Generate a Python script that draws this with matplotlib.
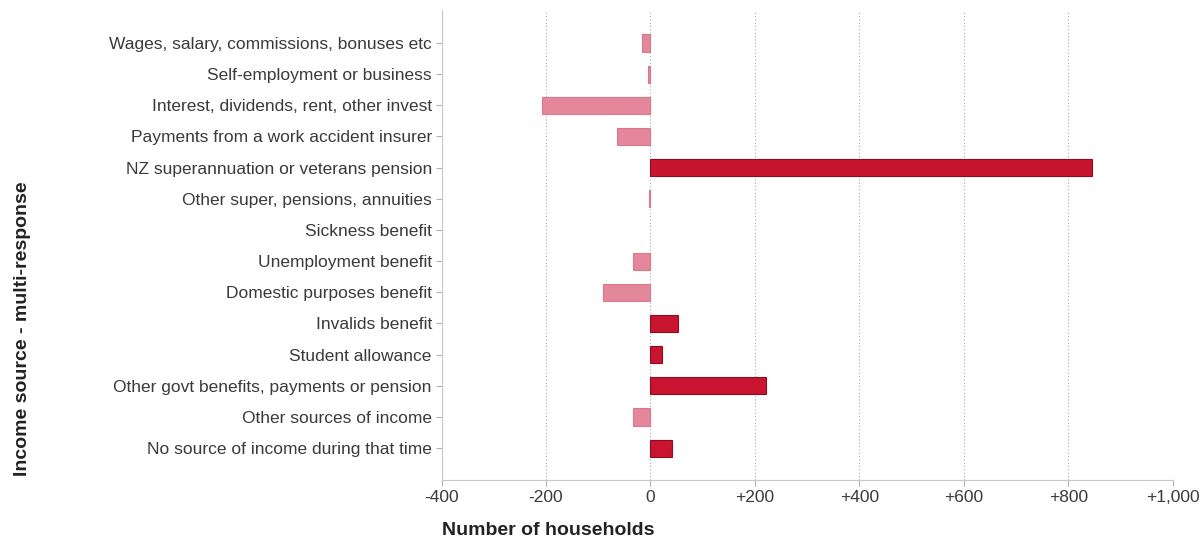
import matplotlib
matplotlib.use("Agg")
import matplotlib.pyplot as plt
import numpy as np

# data
categories = [
    "Wages, salary, commissions, bonuses etc",
    "Self-employment or business",
    "Interest, dividends, rent, other invest",
    "Payments from a work accident insurer",
    "NZ superannuation or veterans pension",
    "Other super, pensions, annuities",
    "Sickness benefit",
    "Unemployment benefit",
    "Domestic purposes benefit",
    "Invalids benefit",
    "Student allowance",
    "Other govt benefits, payments or pension",
    "Other sources of income",
    "No source of income during that time",
]
changes = [-16, -4, -207, -64, 845, -2, 0, -34, -90, 52, 23, 222, -34, 41]
xticks = [-400, -200, 0, 200, 400, 600, 800, 1000]
xtick_labels = ["-400", "-200", "0", "+200", "+400", "+600", "+800", "+1,000"]

plt.rcParams["font.family"] = ["Liberation Sans", "DejaVu Sans"]

fig = plt.figure(figsize=(12.03, 5.52), dpi=100)
ax = fig.add_axes([0.367, 0.130, 0.608, 0.852])

y = np.arange(len(categories))
colors = ["#e5879b" if v < 0 else "#c8142f" for v in changes]
edges = ["#d9788d" if v < 0 else "#8e0c1e" for v in changes]
widths = [0.8 if v != 0 else 0 for v in changes]   # no outline for empty bar
ax.barh(y, changes, height=0.55, color=colors, edgecolor=edges, linewidth=widths, zorder=3)

ax.set_xlim(-400, 1000)
ax.set_ylim(len(categories) - 1 + 1.03, -1.06)
ax.set_yticks(y)
ax.set_yticklabels(categories, fontsize=12.5, color="#3a3a3a")
ax.set_xticks(xticks)
ax.set_xticklabels(xtick_labels, fontsize=12.5, color="#3a3a3a")

ax.grid(axis="x", linestyle=(0, (1, 2)), color="#aaaaaa", linewidth=0.8, zorder=0)
for s in ["top", "right"]:
    ax.spines[s].set_visible(False)
for s in ["left", "bottom"]:
    ax.spines[s].set_color("#c8c8c8")
ax.tick_params(axis="both", colors="#b0b0b0", length=4, labelcolor="#3a3a3a")
ax.tick_params(axis="y", pad=3)
ax.tick_params(axis="x", pad=3)

ax.set_xlabel("Number of households", fontsize=14, fontweight="bold", loc="left", labelpad=12, color="#222222")
fig.text(0.019, 0.404, "Income source - multi-response", rotation=90, fontsize=14,
         fontweight="bold", ha="center", va="center", color="#222222")

fig.savefig("out.png", dpi=100, facecolor="white")
